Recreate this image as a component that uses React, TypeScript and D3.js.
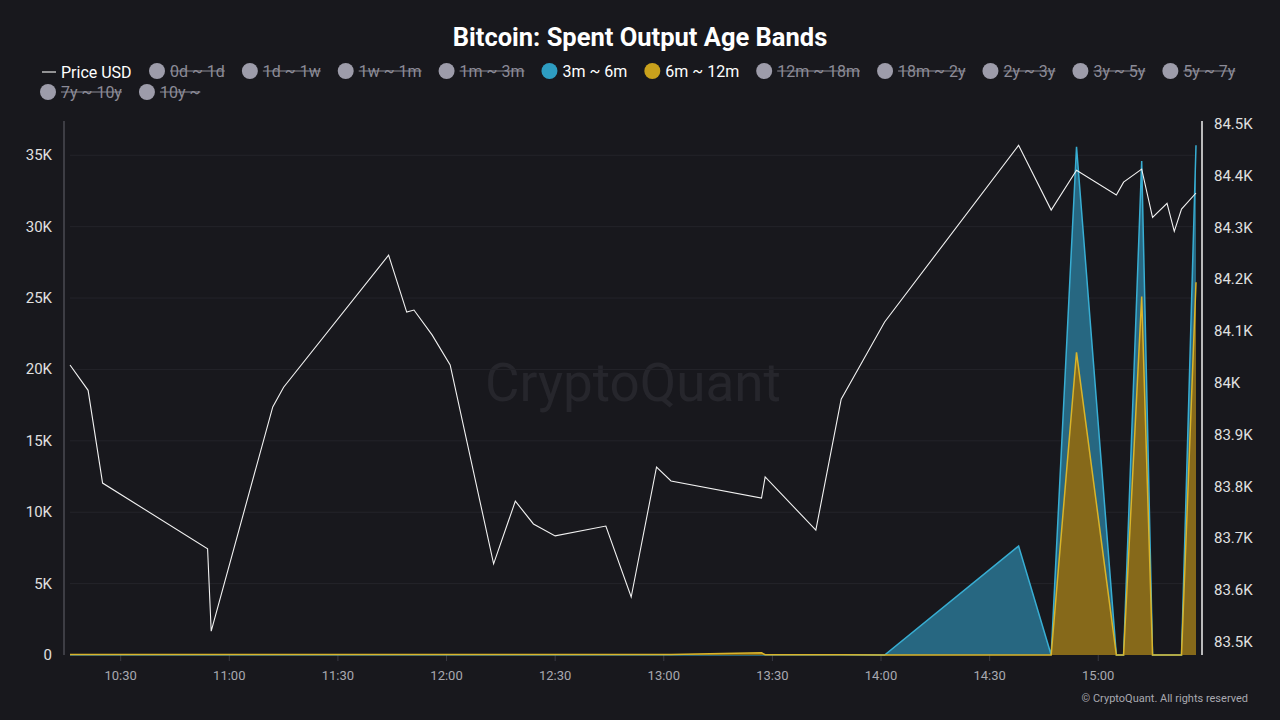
import * as d3 from "d3";
import { useEffect, useRef } from "react";

// sample times (HH:MM, same day)
const times = [
  "10:16", "10:21", "10:25", "10:54", "10:55", "11:12", "11:15", "11:44", "11:49", "11:51",
  "11:56", "12:01", "12:13", "12:19", "12:24", "12:30", "12:44", "12:51", "12:58", "13:02",
  "13:27", "13:28", "13:42", "13:49", "14:01", "14:38", "14:47", "14:54", "15:05", "15:07",
  "15:12", "15:15", "15:19", "15:21", "15:23", "15:27",
];

const priceUsd = [
  84035, 83986, 83807, 83680, 83521, 83954, 83992, 84247, 84137, 84141,
  84093, 84035, 83651, 83772, 83728, 83705, 83724, 83587, 83838, 83811,
  83778, 83819, 83716, 83969, 84118, 84459, 84334, 84411, 84363, 84388,
  84413, 84320, 84347, 84293, 84336, 84367,
];

const band3m6m = [
  20, 20, 20, 20, 20, 20, 20, 20, 20, 20,
  20, 20, 20, 20, 20, 20, 20, 20, 20, 20,
  20, 20, 20, 20, 0, 7630, 0, 35600, 0, 0,
  34600, 0, 0, 0, 0, 35700,
];

const band6m12m = [
  30, 30, 30, 30, 30, 30, 30, 30, 30, 30,
  30, 30, 30, 30, 30, 30, 30, 30, 30, 40,
  150, 20, 20, 20, 0, 0, 0, 21200, 0, 0,
  25100, 0, 0, 0, 0, 26100,
];

const leftTicks = [0, 5000, 10000, 15000, 20000, 25000, 30000, 35000];
const rightTicks = [83500, 83600, 83700, 83800, 83900, 84000, 84100, 84200, 84300, 84400, 84500];

const legendRow1 = [
  { label: "0d ~ 1d", on: false },
  { label: "1d ~ 1w", on: false },
  { label: "1w ~ 1m", on: false },
  { label: "1m ~ 3m", on: false },
  { label: "3m ~ 6m", on: true },
  { label: "6m ~ 12m", on: true },
  { label: "12m ~ 18m", on: false },
  { label: "18m ~ 2y", on: false },
  { label: "2y ~ 3y", on: false },
  { label: "3y ~ 5y", on: false },
  { label: "5y ~ 7y", on: false },
];
const legendRow2 = [
  { label: "7y ~ 10y", on: false },
  { label: "10y ~", on: false },
];

const BG = "#18181d";
const BLUE = "#2e9dc2";
const YELLOW = "#c9a11c";

const toDate = (s: string) => {
  const [h, m] = s.split(":").map(Number);
  return new Date(2025, 3, 2, h, m);
};

const fmtK = (v: number) => (v === 0 ? "0" : `${+(v / 1000).toFixed(1)}K`);

export default function App() {
  const svgRef = useRef<SVGSVGElement | null>(null);

  useEffect(() => {
    const width = 1280;
    const height = 720;
    const svg = d3.select(svgRef.current);
    svg.selectAll("*").remove();

    const font = "Roboto, 'Noto Sans', sans-serif";
    const left = 70, right = 1196, top = 121, bottom = 655;

    const dates = times.map(toDate);
    const x = d3.scaleTime().domain([dates[0], dates[dates.length - 1]]).range([left, right]);
    const yL = d3.scaleLinear().domain([0, 37400]).range([bottom, top]);
    const yR = d3.scaleLinear().domain([83475, 84506]).range([bottom, top]);

    svg.append("rect").attr("width", width).attr("height", height).attr("fill", BG);

    // title
    svg.append("text")
      .attr("x", 640).attr("y", 46)
      .attr("text-anchor", "middle")
      .attr("font-family", font).attr("font-size", 25.5).attr("font-weight", 700)
      .attr("fill", "#ffffff")
      .text("Bitcoin: Spent Output Age Bands");

    // legend
    const lg = svg.append("g").attr("font-family", font).attr("font-size", 16);
    lg.append("line").attr("x1", 42).attr("x2", 56).attr("y1", 72).attr("y2", 72)
      .attr("stroke", "#e6e6e6").attr("stroke-width", 1.2);
    lg.append("text").attr("x", 61).attr("y", 77.5).attr("fill", "#ffffff").text("Price USD");

    const drawItems = (items: { label: string; on: boolean }[], startX: number, yy: number) => {
      let cx = startX;
      items.forEach((it) => {
        const color = it.label === "3m ~ 6m" ? BLUE : it.label === "6m ~ 12m" ? YELLOW : "#9d9caa";
        lg.append("circle").attr("cx", cx).attr("cy", yy).attr("r", 8).attr("fill", color);
        const t = lg.append("text").attr("x", cx + 13).attr("y", yy + 5.5)
          .attr("fill", it.on ? "#ffffff" : "#8c8b97")
          .text(it.label);
        const w = (t.node() as SVGTextElement).getComputedTextLength();
        if (!it.on) {
          lg.append("line").attr("x1", cx + 13).attr("x2", cx + 13 + w)
            .attr("y1", yy).attr("y2", yy).attr("stroke", "#8c8b97").attr("stroke-width", 1.2);
        }
        cx += 13 + w + 25;
      });
    };
    drawItems(legendRow1, 157, 71);
    drawItems(legendRow2, 48, 92);

    // watermark
    svg.append("text")
      .attr("x", 633).attr("y", 401)
      .attr("text-anchor", "middle")
      .attr("font-family", font).attr("font-size", 53)
      .attr("fill", "#26262c")
      .text("CryptoQuant");

    // grid
    svg.append("g").selectAll("line").data(leftTicks.filter((d) => d > 0)).join("line")
      .attr("x1", left).attr("x2", right)
      .attr("y1", (d) => yL(d)).attr("y2", (d) => yL(d))
      .attr("stroke", "#24242a").attr("stroke-width", 1);

    // left axis
    svg.append("line").attr("x1", 64).attr("x2", 64).attr("y1", top).attr("y2", bottom)
      .attr("stroke", "#4a4a52").attr("stroke-width", 1.5);
    svg.append("g").selectAll("text").data(leftTicks).join("text")
      .attr("x", 52).attr("y", (d) => yL(d) + 5)
      .attr("text-anchor", "end")
      .attr("font-family", font).attr("font-size", 15).attr("fill", "#e0e0e0")
      .text(fmtK);

    // right axis
    svg.append("line").attr("x1", 1202).attr("x2", 1202).attr("y1", top).attr("y2", bottom)
      .attr("stroke", "#f0f0f0").attr("stroke-width", 1.5);
    svg.append("g").selectAll("text").data(rightTicks).join("text")
      .attr("x", 1214).attr("y", (d) => yR(d) + 5)
      .attr("font-family", font).attr("font-size", 15).attr("fill", "#e0e0e0")
      .text(fmtK);

    // x axis
    const xTicks = x.ticks(d3.timeMinute.every(30) as d3.TimeInterval);
    const xg = svg.append("g");
    xg.selectAll("line").data(xTicks).join("line")
      .attr("x1", (d) => x(d)).attr("x2", (d) => x(d))
      .attr("y1", bottom).attr("y2", bottom + 6)
      .attr("stroke", "#3a3a42");
    xg.selectAll("text").data(xTicks).join("text")
      .attr("x", (d) => x(d)).attr("y", 680)
      .attr("text-anchor", "middle")
      .attr("font-family", font).attr("font-size", 13).attr("fill", "#a8a8b0")
      .text((d) => d3.timeFormat("%H:%M")(d));

    // areas
    const drawBand = (vals: number[], fill: string, stroke: string) => {
      const pts = dates.map((d, i) => [d, vals[i]] as [Date, number]);
      const area = d3.area<[Date, number]>().x((p) => x(p[0])).y0(bottom).y1((p) => yL(p[1]));
      const line = d3.line<[Date, number]>().x((p) => x(p[0])).y((p) => yL(p[1]));
      svg.append("path").attr("d", area(pts)).attr("fill", fill);
      svg.append("path").attr("d", line(pts)).attr("fill", "none")
        .attr("stroke", stroke).attr("stroke-width", 1.5);
    };
    drawBand(band3m6m, "#276781", "#38aed3");
    drawBand(band6m12m, "#86691a", "#d9b42a");

    // price line
    const priceLine = d3.line<number>()
      .x((_, i) => x(dates[i]))
      .y((p) => yR(p));
    svg.append("path").attr("d", priceLine(priceUsd)).attr("fill", "none")
      .attr("stroke", "#f2f2f2").attr("stroke-width", 1.1);

    // footer
    svg.append("text")
      .attr("x", 1248).attr("y", 702)
      .attr("text-anchor", "end")
      .attr("font-family", font).attr("font-size", 11).attr("fill", "#a8a8b0")
      .text("© CryptoQuant. All rights reserved");
  }, []);

  return (
    <div style={{ position: "fixed", left: 0, top: 0, width: 1280, height: 720, background: BG }}>
      <svg ref={svgRef} width={1280} height={720} style={{ display: "block" }}></svg>
    </div>
  );
}
